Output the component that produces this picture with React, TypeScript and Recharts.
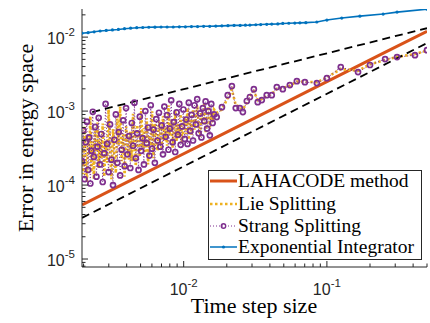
import { LineChart, Line, XAxis, YAxis, Legend } from 'recharts'

// time step sizes used for the splitting schemes
const dtSplit = [
  0.00195, 0.00199, 0.00203, 0.00207, 0.00211, 0.00215, 0.00219, 0.00223, 0.00227, 0.00232, 0.00236, 0.00241, 0.00246, 0.0025, 0.00255, 0.0026,
  0.00266, 0.00272, 0.00279, 0.00285, 0.00292, 0.00299, 0.00306, 0.00313, 0.00321, 0.00328, 0.00336, 0.00344, 0.00352, 0.0036, 0.00369, 0.00378, 0.00387, 0.00396, 0.00405, 0.00415,
  0.00424, 0.00434, 0.00443, 0.00453, 0.00463, 0.00473, 0.00484, 0.00494, 0.00505, 0.00517, 0.00528, 0.0054, 0.00552, 0.00564, 0.00576, 0.00589, 0.00602, 0.00615, 0.00629, 0.00643, 0.00657, 0.00672,
  0.00687, 0.00702, 0.00717, 0.00733, 0.00749, 0.00766, 0.00783, 0.008, 0.00818, 0.00836, 0.00854, 0.00873, 0.00892, 0.00912, 0.00932, 0.00953, 0.00974, 0.00995, 0.01017, 0.0104, 0.01063, 0.01086,
  0.01111, 0.01136, 0.01162, 0.01189, 0.01216, 0.01243, 0.01272, 0.01301, 0.0133, 0.01361, 0.01392, 0.01423, 0.01456, 0.01489, 0.01523, 0.01558, 0.01593, 0.0163,
  0.017, 0.0185, 0.0203, 0.0217, 0.0231, 0.0247, 0.0259, 0.0276, 0.029, 0.0309, 0.0329, 0.0351, 0.038, 0.0412, 0.0447, 0.0492, 0.0551, 0.0617, 0.0702, 0.0851, 0.1, 0.125, 0.165, 0.2, 0.255, 0.309, 0.412, 0.5,
]

const strangErr = [
  2.1e-4, 5.5e-4, 1.2e-4, 3.8e-4, 7.2e-4, 1.6e-4, 4.4e-4, 1.05e-4, 2.9e-4, 9.8e-4, 2.4e-4, 6.1e-4, 1.3e-4, 3.3e-4, 8.1e-4, 1.9e-4,
  4.9e-4, 1.1e-4, 2.7e-4, 1.25e-3, 3.6e-4, 1.5e-4, 6.6e-4, 2.2e-4, 1.0e-4, 4.1e-4, 9.0e-4, 2.0e-4, 5.2e-4, 1.35e-4, 3.0e-4, 7.5e-4, 1.8e-4, 1.1e-3, 2.6e-4, 4.6e-4,
  1.7e-4, 6.9e-4, 3.4e-4, 1.3e-3, 2.3e-4, 5.0e-4, 1.6e-4, 8.4e-4, 2.9e-4, 4.3e-4, 1.9e-4, 1.0e-3, 3.7e-4, 6.0e-4, 2.5e-4, 1.2e-3, 3.1e-4, 5.6e-4, 2.0e-4, 7.8e-4, 4.0e-4, 9.5e-4,
  3.3e-4, 6.4e-4, 2.6e-4, 1.15e-3, 4.5e-4, 8.8e-4, 3.0e-4, 5.8e-4, 1.4e-3, 3.8e-4, 7.1e-4, 2.8e-4, 9.6e-4, 4.8e-4, 1.25e-3, 3.5e-4, 6.2e-4, 1.05e-3, 4.2e-4, 7.7e-4, 3.6e-4, 1.3e-3,
  5.4e-4, 8.9e-4, 4.0e-4, 1.2e-3, 6.6e-4, 1.45e-3, 5.0e-4, 9.3e-4, 4.4e-4, 1.1e-3, 7.3e-4, 1.35e-3, 5.8e-4, 1.0e-3, 4.7e-4, 1.25e-3, 6.9e-4, 9.0e-4,
  8.3e-4, 1.13e-3, 1.64e-3, 2.18e-3, 1.1e-3, 1.1e-3, 9.7e-4, 1.37e-3, 1.55e-3, 1.98e-3, 1.32e-3, 1.41e-3, 1.64e-3, 1.64e-3, 2.11e-3, 1.98e-3, 2.25e-3, 2.54e-3, 2.46e-3, 2.39e-3, 2.79e-3, 3.93e-3, 3.37e-3, 4.2e-3, 5.05e-3, 5.37e-3, 5.7e-3, 6.67e-3,
]

const lieErr = [
  3.0e-4, 1.4e-4, 6.3e-4, 2.2e-4, 1.1e-4, 4.7e-4, 2.6e-4, 8.5e-4, 1.5e-4, 3.9e-4, 1.2e-4, 5.4e-4, 2.8e-4, 7.0e-4, 1.7e-4, 4.2e-4,
  2.3e-4, 6.8e-4, 1.3e-4, 4.0e-4, 2.0e-4, 1.05e-3, 3.2e-4, 1.2e-4, 5.7e-4, 2.5e-4, 1.45e-4, 7.9e-4, 3.5e-4, 1.15e-3, 2.1e-4, 4.8e-4, 1.3e-4, 6.2e-4, 3.7e-4, 2.2e-4,
  5.3e-4, 2.1e-4, 9.2e-4, 3.6e-4, 1.8e-4, 6.5e-4, 4.4e-4, 2.4e-4, 1.1e-3, 3.2e-4, 5.9e-4, 2.7e-4, 8.0e-4, 1.9e-4, 4.6e-4, 3.4e-4, 9.9e-4, 2.3e-4, 6.8e-4, 4.1e-4, 2.9e-4, 7.4e-4,
  5.1e-4, 3.0e-4, 8.6e-4, 4.0e-4, 6.0e-4, 3.4e-4, 1.2e-3, 4.6e-4, 7.4e-4, 3.2e-4, 5.5e-4, 1.0e-3, 3.9e-4, 6.7e-4, 4.3e-4, 9.1e-4, 3.7e-4, 5.7e-4, 8.2e-4, 4.9e-4, 1.1e-3, 4.1e-4,
  7.6e-4, 4.8e-4, 1.05e-3, 5.6e-4, 8.4e-4, 1.2e-3, 6.2e-4, 4.5e-4, 9.7e-4, 6.8e-4, 1.3e-3, 5.2e-4, 8.0e-4, 1.15e-3, 6.0e-4, 9.4e-4, 7.1e-4, 1.05e-3,
  9.5e-4, 1.05e-3, 1.5e-3, 1.95e-3, 1.2e-3, 1.15e-3, 1.05e-3, 1.3e-3, 1.6e-3, 1.85e-3, 1.4e-3, 1.45e-3, 1.6e-3, 1.7e-3, 2.0e-3, 2.05e-3, 2.2e-3, 2.5e-3, 2.5e-3, 2.45e-3, 2.85e-3, 3.7e-3, 3.5e-3, 4.3e-3, 4.9e-3, 5.4e-3, 5.9e-3, 6.6e-3,
]

const dtExp = [
  0.00195, 0.00215, 0.00237, 0.00261, 0.00288, 0.00318, 0.0035, 0.00386, 0.00426, 0.0047, 0.00518, 0.00571, 0.0063, 0.00695, 0.00766, 0.00845,
  0.00932, 0.01028, 0.01133, 0.0125, 0.01378, 0.0152, 0.01676, 0.01848, 0.02038, 0.02248, 0.02479, 0.027, 0.029, 0.0319, 0.0345, 0.038,
  0.0412, 0.0454, 0.0492, 0.0542, 0.0597, 0.0648, 0.0713, 0.085, 0.1, 0.127, 0.17, 0.247, 0.309, 0.5,
]
const expErr = [
  0.0113, 0.0115, 0.0118, 0.0121, 0.0123, 0.0125, 0.0127, 0.013, 0.0132, 0.0134, 0.0135, 0.0136, 0.01365, 0.0137, 0.0137, 0.0137,
  0.0138, 0.0138, 0.0139, 0.0139, 0.014, 0.014, 0.0141, 0.0142, 0.0143, 0.0144, 0.0144, 0.0145, 0.01455, 0.0147, 0.0148, 0.0149,
  0.015, 0.0151, 0.0153, 0.0154, 0.0155, 0.0156, 0.0157, 0.016, 0.017, 0.0181, 0.0192, 0.0205, 0.0218, 0.0239,
]

const dtLaha = [0.00195, 0.0039, 0.0078, 0.0156, 0.03125, 0.0625, 0.125, 0.25, 0.5]
const lahaErr = [5.4e-5, 1.06e-4, 2.08e-4, 4.09e-4, 8.05e-4, 1.58e-3, 3.11e-3, 6.11e-3, 1.2e-2]

// reference slopes (dashed)
const dtRefHalf = [0.0023, 0.5]
const refHalf = [9.7e-4, 1.32e-2]
const dtRefOne = [0.00195, 0.5]
const refOne = [3.6e-5, 8.3e-3]

const X_DOMAIN: [number, number] = [0.00195, 0.5]
const Y_DOMAIN: [number, number] = [7.8e-6, 0.024]

const mant = [1, 2, 3, 4, 5, 6, 7, 8, 9]
const inside = (d: [number, number]) => (v: number) => v >= d[0] * 0.9999 && v <= d[1] * 1.0001
const xTicks = [1e-3, 1e-2, 1e-1].flatMap((d) => mant.map((m) => m * d)).filter(inside(X_DOMAIN))
const yTicks = [1e-6, 1e-5, 1e-4, 1e-3, 1e-2].flatMap((d) => mant.map((m) => m * d)).filter(inside(Y_DOMAIN))

const pairs = (xs: number[], ys: number[]) => xs.map((x, i) => ({ x, y: ys[i] }))
const lieData = pairs(dtSplit, lieErr)
const strangData = pairs(dtSplit, strangErr)
const expData = pairs(dtExp, expErr)
const lahaData = pairs(dtLaha, lahaErr)
const halfData = pairs(dtRefHalf, refHalf)
const oneData = pairs(dtRefOne, refOne)

const AX = '#262626'
const SANS = '"Liberation Sans", Arial, sans-serif'
const SERIF = '"Liberation Serif", "Times New Roman", serif'

const isMajor = (v: number) => Math.abs(Math.log10(v) - Math.round(Math.log10(v))) < 1e-6
const expOf = (v: number) => Math.round(Math.log10(v))

function BottomTick(props: any) {
  const { x, y, payload } = props
  const major = isMajor(payload.value)
  return (
    <g>
      <line x1={x} x2={x} y1={y} y2={y - (major ? 6 : 3.5)} stroke={AX} />
      {major && (
        <text x={x} y={y + 28} textAnchor="middle" fontFamily={SANS} fontSize={16} fill={AX}>
          10<tspan dy={-8} fontSize={11.5}>-{Math.abs(expOf(payload.value))}</tspan>
        </text>
      )}
    </g>
  )
}

function TopTick(props: any) {
  const { x, y, payload } = props
  const major = isMajor(payload.value)
  return <line x1={x} x2={x} y1={y} y2={y + (major ? 6 : 3.5)} stroke={AX} />
}

function LeftTick(props: any) {
  const { x, y, payload } = props
  const major = isMajor(payload.value)
  return (
    <g>
      <line x1={x} x2={x + (major ? 6 : 3.5)} y1={y} y2={y} stroke={AX} />
      {major && (
        <text x={x - 7} y={y + 6.5} textAnchor="end" fontFamily={SANS} fontSize={16} fill={AX}>
          10<tspan dy={-8} fontSize={11.5}>-{Math.abs(expOf(payload.value))}</tspan>
        </text>
      )}
    </g>
  )
}

function RightTick(props: any) {
  const { x, y, payload } = props
  const major = isMajor(payload.value)
  return <line x1={x} x2={x - (major ? 6 : 3.5)} y1={y} y2={y} stroke={AX} />
}

const rows = [
  { name: 'LAHACODE method', kind: 'laha' },
  { name: 'Lie Splitting', kind: 'lie' },
  { name: 'Strang Splitting', kind: 'strang' },
  { name: 'Exponential Integrator', kind: 'exp' },
]
const rowY = [11, 34, 56, 77]

function LegendBox() {
  return (
    <svg width={214} height={90} style={{ display: 'block' }}>
      <rect x={0.5} y={0.5} width={213} height={89} fill="#fff" stroke={AX} />
      {rows.map((r, i) => {
        const cy = rowY[i]
        return (
          <g key={r.name}>
            {r.kind === 'laha' && <line x1={2} x2={29} y1={cy} y2={cy} stroke="#D95319" strokeWidth={3} />}
            {r.kind === 'lie' && <line x1={2} x2={29} y1={cy} y2={cy} stroke="#EDB120" strokeWidth={2.5} strokeDasharray="2.5 2.5" />}
            {r.kind === 'strang' && (
              <>
                <line x1={2} x2={29} y1={cy} y2={cy} stroke="#7E2F8E" strokeWidth={1} strokeDasharray="1 2" />
                <circle cx={15.5} cy={cy} r={2.2} fill="none" stroke="#7E2F8E" strokeWidth={1.4} />
              </>
            )}
            {r.kind === 'exp' && (
              <>
                <line x1={2} x2={29} y1={cy} y2={cy} stroke="#0072BD" strokeWidth={1.5} />
                <circle cx={15.5} cy={cy} r={1.6} fill="#0072BD" />
              </>
            )}
            <text x={30} y={cy + 6} fontFamily={SERIF} fontSize={19.5} fill="#000">{r.name}</text>
          </g>
        )
      })}
    </svg>
  )
}

export default function App() {
  return (
    <div style={{ width: 430, height: 323 }}>
      <style>{'body{margin:0}'}</style>
      <LineChart width={430} height={323} margin={{ top: 9, right: 3, left: 0, bottom: 0 }}>
        <XAxis
          xAxisId="b"
          dataKey="x"
          type="number"
          scale="log"
          domain={X_DOMAIN}
          allowDataOverflow
          ticks={xTicks}
          interval={0}
          height={56}
          tickSize={0}
          tickMargin={0}
          tickLine={false}
          axisLine={{ stroke: AX }}
          tick={BottomTick}
          label={() => (
            <text x={254} y={313} textAnchor="middle" fontFamily={SERIF} fontSize={22} fill="#000">Time step size</text>
          )}
        />
        <XAxis
          xAxisId="t"
          orientation="top"
          dataKey="x"
          type="number"
          scale="log"
          domain={X_DOMAIN}
          allowDataOverflow
          ticks={xTicks}
          interval={0}
          height={0}
          tickSize={0}
          tickMargin={0}
          tickLine={false}
          axisLine={{ stroke: AX }}
          tick={TopTick}
        />
        <YAxis
          yAxisId="l"
          type="number"
          scale="log"
          domain={Y_DOMAIN}
          allowDataOverflow
          ticks={yTicks}
          interval={0}
          width={82}
          tickSize={0}
          tickMargin={0}
          tickLine={false}
          axisLine={{ stroke: AX }}
          tick={LeftTick}
          label={() => (
            <text transform="translate(33,138) rotate(-90)" textAnchor="middle" fontFamily={SERIF} fontSize={22} fill="#000">
              Error in energy space
            </text>
          )}
        />
        <YAxis
          yAxisId="r"
          orientation="right"
          type="number"
          scale="log"
          domain={Y_DOMAIN}
          allowDataOverflow
          ticks={yTicks}
          interval={0}
          width={0}
          tickSize={0}
          tickMargin={0}
          tickLine={false}
          axisLine={{ stroke: AX }}
          tick={RightTick}
        />
        <Line xAxisId="b" yAxisId="l" data={lahaData} dataKey="y" stroke="#D95319" strokeWidth={3} dot={false} isAnimationActive={false} />
        <Line xAxisId="b" yAxisId="l" data={lieData} dataKey="y" stroke="#EDB120" strokeWidth={2.6} strokeDasharray="2.4 2.2" dot={false} isAnimationActive={false} />
        <Line
          xAxisId="b"
          yAxisId="l"
          data={strangData}
          dataKey="y"
          stroke="#7E2F8E"
          strokeWidth={1}
          strokeDasharray="1 2"
          dot={{ r: 2.5, fill: 'none', stroke: '#7E2F8E', strokeWidth: 1.7, strokeDasharray: '' }}
          isAnimationActive={false}
        />
        <Line
          xAxisId="b"
          yAxisId="l"
          data={expData}
          dataKey="y"
          stroke="#0072BD"
          strokeWidth={1.6}
          dot={{ r: 1.6, fill: '#0072BD', stroke: '#0072BD', strokeWidth: 0 }}
          isAnimationActive={false}
        />
        <Line xAxisId="b" yAxisId="l" data={halfData} dataKey="y" stroke="#000" strokeWidth={1.8} strokeDasharray="8 5" dot={false} isAnimationActive={false} />
        <Line xAxisId="b" yAxisId="l" data={oneData} dataKey="y" stroke="#000" strokeWidth={1.8} strokeDasharray="8 5" dot={false} isAnimationActive={false} />
        <Legend
          layout="horizontal"
          verticalAlign="middle"
          align="center"
          content={() => <LegendBox />}
          wrapperStyle={{ left: 208, top: 170, width: 214, height: 90 }}
        />
      </LineChart>
    </div>
  )
}
